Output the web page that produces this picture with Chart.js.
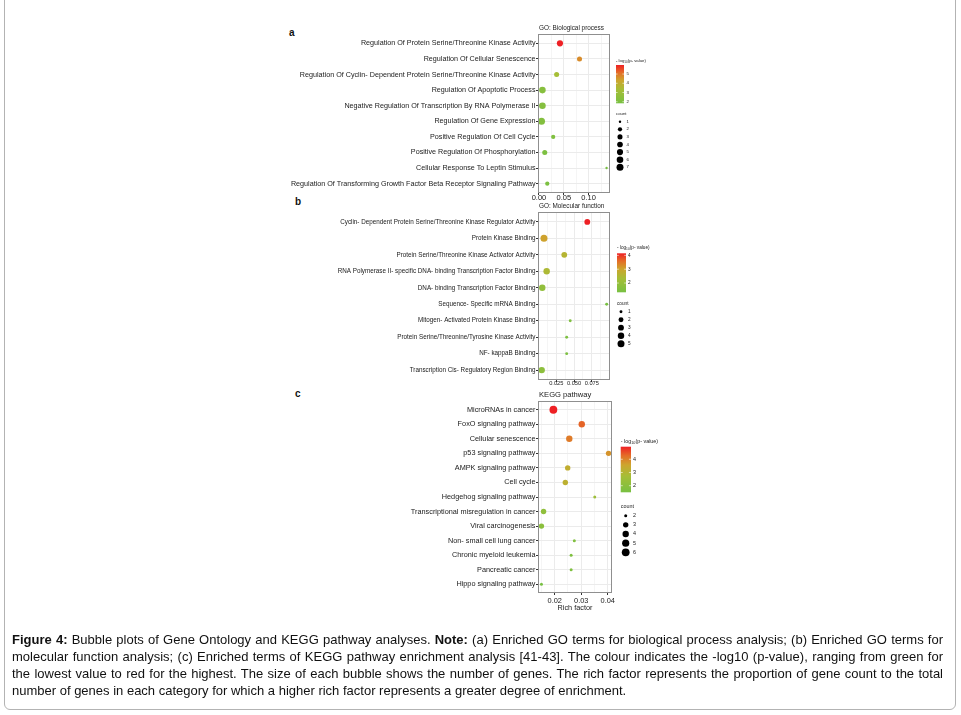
<!DOCTYPE html>
<html>
<head>
<meta charset="utf-8">
<script src="https://cdn.jsdelivr.net/npm/chart.js@4.4.1/dist/chart.umd.min.js"></script>
<style>
    body { margin: 0; background: #fff; width: 961px; height: 715px; position: relative; overflow: hidden; font-family: "Liberation Sans", Arial, sans-serif; }
    canvas { position: absolute; left: 0; }
    .frame { position: absolute; left: 4px; top: -20px; width: 952px; height: 730px; border: 1px solid #b3b3b3; border-radius: 6px; box-sizing: border-box; }
    .letter { position: absolute; font-weight: bold; font-size: 10px; color: #111; }
    .cap { position: absolute; left: 12px; width: 931px; font-size: 13px; line-height: 17px; color: #111; white-space: nowrap; }
    .just { text-align: justify; text-align-last: justify; }
</style>
</head>
<body>
<div class="frame"></div>
<div class="letter" style="left:289px;top:27px">a</div>
<div class="letter" style="left:295px;top:196px">b</div>
<div class="letter" style="left:295px;top:388px">c</div>
<canvas id="bp" width="961" height="215" style="top:0px"></canvas>
<canvas id="mf" width="961" height="200" style="top:195px"></canvas>
<canvas id="kegg" width="961" height="240" style="top:385px"></canvas>
<div class="cap just" style="top:631px"><b>Figure 4:</b> Bubble plots of Gene Ontology and KEGG pathway analyses. <b>Note:</b> (a) Enriched GO terms for biological process analysis; (b) Enriched GO terms for</div>
<div class="cap just" style="top:648px">molecular function analysis; (c) Enriched terms of KEGG pathway enrichment analysis [41-43]. The colour indicates the -log10 (p-value), ranging from green for</div>
<div class="cap just" style="top:665px">the lowest value to red for the highest. The size of each bubble shows the number of genes. The rich factor represents the proportion of gene count to the total</div>
<div class="cap" style="top:682px">number of genes in each category for which a higher rich factor represents a greater degree of enrichment.</div>
<script>
const FONT = '"Liberation Sans", Arial, sans-serif'
Chart.defaults.font.family = FONT

// a - GO biological process
const bpTerms = [
    'Regulation Of Protein Serine/Threonine Kinase Activity',
    'Regulation Of Cellular Senescence',
    'Regulation Of Cyclin- Dependent Protein Serine/Threonine Kinase Activity',
    'Regulation Of Apoptotic Process',
    'Negative Regulation Of Transcription By RNA Polymerase II',
    'Regulation Of Gene Expression',
    'Positive Regulation Of Cell Cycle',
    'Positive Regulation Of Phosphorylation',
    'Cellular Response To Leptin Stimulus',
    'Regulation Of Transforming Growth Factor Beta Receptor Signaling Pathway'
]
const bpRich = [0.0422, 0.0816, 0.0355, 0.0069, 0.0069, 0.0051, 0.0286, 0.0116, 0.1361, 0.0167]
const bpLogP = [5.98, 4.7, 3.3, 2.3, 2.25, 2.2, 2.1, 2.0, 1.83, 1.95]
const bpCount = [5, 3, 3, 6, 6, 7, 2, 3, 1, 2]
const bpXTicks = [0, 0.05, 0.10]
const bpXLabels = ['0.00', '0.05', '0.10']
const bpColourTicks = [2, 3, 4, 5]
const bpCountBreaks = [1, 2, 3, 4, 5, 6, 7]

// b - GO molecular function
const mfTerms = [
    'Cyclin- Dependent Protein Serine/Threonine Kinase Regulator Activity',
    'Protein Kinase Binding',
    'Protein Serine/Threonine Kinase Activator Activity',
    'RNA Polymerase II- specific DNA- binding Transcription Factor Binding',
    'DNA- binding Transcription Factor Binding',
    'Sequence- Specific mRNA Binding',
    'Mitogen- Activated Protein Kinase Binding',
    'Protein Serine/Threonine/Tyrosine Kinase Activity',
    'NF- kappaB Binding',
    'Transcription Cis- Regulatory Region Binding'
]
const mfRich = [0.0686, 0.0076, 0.0362, 0.0114, 0.0052, 0.0959, 0.0446, 0.0396, 0.0396, 0.0044]
const mfLogP = [4.15, 3.05, 2.6, 2.45, 1.9, 1.33, 1.5, 1.45, 1.45, 1.8]
const mfCount = [3, 5, 3, 4, 4, 1, 1, 1, 1, 4]
const mfXTicks = [0.025, 0.05, 0.075]
const mfXLabels = ['0.025', '0.050', '0.075']
const mfColourTicks = [2, 3, 4]
const mfCountBreaks = [1, 2, 3, 4, 5]

// c - KEGG pathway
const keggTerms = [
    'MicroRNAs in cancer',
    'FoxO signaling pathway',
    'Cellular senescence',
    'p53 signaling pathway',
    'AMPK signaling pathway',
    'Cell cycle',
    'Hedgehog signaling pathway',
    'Transcriptional misregulation in cancer',
    'Viral carcinogenesis',
    'Non- small cell lung cancer',
    'Chronic myeloid leukemia',
    'Pancreatic cancer',
    'Hippo signaling pathway'
]
const keggRich = [0.0195, 0.0302, 0.0255, 0.0403, 0.0249, 0.0240, 0.0351, 0.0158, 0.0150, 0.0274, 0.0262, 0.0262, 0.0150]
const keggLogP = [4.95, 4.35, 4.1, 3.8, 3.3, 3.2, 2.5, 2.15, 2.0, 1.75, 1.7, 1.7, 1.5]
const keggCount = [6, 4, 4, 3, 3, 3, 2, 3, 3, 2, 2, 2, 2]
const keggXTicks = [0.02, 0.03, 0.04]
const keggXLabels = ['0.02', '0.03', '0.04']
const keggColourTicks = [2, 3, 4]
const keggCountBreaks = [2, 3, 4, 5, 6]

// green -> yellow-green -> ochre -> orange -> red
const stops = [
    [0, [120, 192, 66]],
    [0.35, [165, 190, 55]],
    [0.6, [205, 165, 45]],
    [0.8, [228, 110, 40]],
    [1, [238, 32, 36]]
]

function rgb(c) { return 'rgb(' + c.map(Math.round).join(',') + ')' }

function colourFor(v, lo, hi) {
    let t = (v - lo) / (hi - lo)
    t = Math.max(0, Math.min(1, t))
    for (let i = 1; i < stops.length; i++) {
        if (t <= stops[i][0]) {
            let a = stops[i - 1], b = stops[i]
            let f = (t - a[0]) / (b[0] - a[0])
            return rgb(a[1].map((x, k) => x + (b[1][k] - x) * f))
        }
    }
    return rgb(stops[stops.length - 1][1])
}

function near(v, list) {
    return list.findIndex(t => Math.abs(t - v) < 1e-7)
}

function makeChart(id, p) {
    let lo = Math.min(...p.logP), hi = Math.max(...p.logP)
    let cMin = Math.min(...p.count), cMax = Math.max(...p.count)
    let radius = c => p.rMin + (p.rMax - p.rMin) * Math.sqrt((c - cMin) / (cMax - cMin))

    let step = p.xTicks[1] - p.xTicks[0]
    let gridVals = []
    for (let v = p.xTicks[0] - step; v <= p.xMax + 1e-9; v += step / 2) {
        if (v >= p.xMin - 1e-9) gridVals.push(+v.toFixed(6))
    }

    let side = {
        id: 'side_' + id,
        afterDraw(chart) {
            let ctx = chart.ctx, a = chart.chartArea, g = p.legend, T = p.top
            ctx.save()
            ctx.strokeStyle = '#8f8f8f'
            ctx.lineWidth = 1
            ctx.strokeRect(a.left + 0.5, a.top + 0.5, a.right - a.left - 1, a.bottom - a.top - 1)

            ctx.fillStyle = '#1a1a1a'
            ctx.textAlign = 'left'
            ctx.textBaseline = 'middle'
            ctx.font = p.titleSize + 'px ' + FONT
            ctx.fillText(p.title, a.left + 1, p.titleY - T)

            // colour bar title: - log10(p- value)
            let fs = g.font
            let x = g.barX, y = g.titleY - T
            ctx.font = fs + 'px ' + FONT
            ctx.fillText('- log', x, y)
            x += ctx.measureText('- log').width
            ctx.font = (fs * 0.7) + 'px ' + FONT
            ctx.fillText('10', x, y + fs * 0.3)
            x += ctx.measureText('10').width
            ctx.font = fs + 'px ' + FONT
            ctx.fillText('(p- value)', x, y)

            let top = g.barTop - T, bot = g.barBottom - T
            let grad = ctx.createLinearGradient(0, bot, 0, top)
            stops.forEach(s => grad.addColorStop(s[0], rgb(s[1])))
            ctx.fillStyle = grad
            ctx.fillRect(g.barX, top, g.barW, bot - top)
            p.colourTicks.forEach(v => {
                let ty = bot - (v - lo) / (hi - lo) * (bot - top)
                ctx.strokeStyle = '#fff'
                ctx.lineWidth = 0.6
                ctx.beginPath()
                ctx.moveTo(g.barX, ty); ctx.lineTo(g.barX + g.barW * 0.2, ty)
                ctx.moveTo(g.barX + g.barW * 0.8, ty); ctx.lineTo(g.barX + g.barW, ty)
                ctx.stroke()
                ctx.fillStyle = '#1a1a1a'
                ctx.fillText(String(v), g.labX, ty)
            })

            ctx.fillText('count', g.barX, g.countY - T)
            p.countBreaks.forEach((c, i) => {
                let dy = g.dotY0 + i * g.dotStep - T
                ctx.fillStyle = '#000'
                ctx.beginPath()
                ctx.arc(g.dotX, dy, radius(c), 0, Math.PI * 2)
                ctx.fill()
                ctx.fillStyle = '#1a1a1a'
                ctx.fillText(String(c), g.labX, dy)
            })
            ctx.restore()
        }
    }

    return new Chart(document.getElementById(id), {
        type: 'bubble',
        data: {
            datasets: [{
                data: p.rich.map((r, i) => ({ x: r, y: i, r: radius(p.count[i]) })),
                backgroundColor: p.logP.map(v => colourFor(v, lo, hi)),
                borderWidth: 0,
                hoverBorderWidth: 0,
                clip: false
            }]
        },
        options: {
            responsive: false,
            devicePixelRatio: 1,
            animation: false,
            events: [],
            layout: { padding: { left: 0, top: p.padTop, right: p.padRight, bottom: 0 } },
            plugins: { legend: { display: false }, tooltip: { enabled: false } },
            scales: {
                x: {
                    type: 'linear',
                    min: p.xMin,
                    max: p.xMax,
                    afterFit: s => { s.height = p.xHeight },
                    afterBuildTicks: s => { s.ticks = gridVals.map(v => ({ value: v })) },
                    border: { display: false },
                    grid: {
                        color: c => near(c.tick.value, p.xTicks) >= 0 ? '#ebebeb' : '#f5f5f5',
                        tickColor: c => near(c.tick.value, p.xTicks) >= 0 ? '#333' : 'rgba(0,0,0,0)',
                        lineWidth: 1,
                        tickLength: 2
                    },
                    ticks: {
                        autoSkip: false,
                        maxRotation: 0,
                        padding: p.xPad,
                        color: '#1a1a1a',
                        font: { size: p.xFont, lineHeight: 1 },
                        callback: v => {
                            let k = near(v, p.xTicks)
                            return k >= 0 ? p.xLabels[k] : ''
                        }
                    },
                    title: p.xTitle ? {
                        display: true,
                        text: p.xTitle,
                        color: '#1a1a1a',
                        font: { size: p.xTitleFont, lineHeight: 1 },
                        padding: { top: 0, bottom: p.xTitlePad }
                    } : { display: false }
                },
                y: {
                    type: 'linear',
                    reverse: true,
                    min: -0.6,
                    max: p.terms.length - 0.4,
                    afterFit: s => { s.width = 538 },
                    afterBuildTicks: s => { s.ticks = p.terms.map((t, i) => ({ value: i })) },
                    border: { display: false },
                    grid: { color: '#ebebeb', tickColor: '#333', lineWidth: 1, tickLength: 2 },
                    ticks: {
                        autoSkip: false,
                        padding: 0.5,
                        color: '#1a1a1a',
                        font: { size: p.yFont, lineHeight: 1 },
                        callback: v => p.terms[v]
                    }
                }
            }
        },
        plugins: [side]
    })
}

makeChart('bp', {
    top: 0, terms: bpTerms, rich: bpRich, logP: bpLogP, count: bpCount,
    xTicks: bpXTicks, xLabels: bpXLabels, colourTicks: bpColourTicks, countBreaks: bpCountBreaks,
    xMin: -0.002, xMax: 0.143, padTop: 34, padRight: 351, xHeight: 22,
    xFont: 7.5, xPad: -0.75, yFont: 7.2, rMin: 1.2, rMax: 3.5,
    title: 'GO: Biological process', titleSize: 6.4, titleY: 28.3,
    legend: { font: 4.3, titleY: 61, barX: 616, barW: 8, barTop: 65, barBottom: 103.3, labX: 626.5,
        countY: 114.3, dotX: 620, dotY0: 121.7, dotStep: 7.6 }
})

makeChart('mf', {
    top: 195, terms: mfTerms, rich: mfRich, logP: mfLogP, count: mfCount,
    xTicks: mfXTicks, xLabels: mfXLabels, colourTicks: mfColourTicks, countBreaks: mfCountBreaks,
    xMin: -0.0008, xMax: 0.1006, padTop: 17, padRight: 351, xHeight: 15,
    xFont: 5.7, xPad: -1.55, yFont: 6.3, rMin: 1.45, rMax: 3.5,
    title: 'GO: Molecular function', titleSize: 6.4, titleY: 206.7,
    legend: { font: 4.7, titleY: 247.3, barX: 617, barW: 9, barTop: 253.3, barBottom: 292.3, labX: 628,
        countY: 303.3, dotX: 621, dotY0: 311.7, dotStep: 8 }
})

makeChart('kegg', {
    top: 385, terms: keggTerms, rich: keggRich, logP: keggLogP, count: keggCount,
    xTicks: keggXTicks, xLabels: keggXLabels, colourTicks: keggColourTicks, countBreaks: keggCountBreaks,
    xMin: 0.0137, xMax: 0.0416, padTop: 16, padRight: 349, xHeight: 32,
    xFont: 7.4, xPad: 2.3, yFont: 7.3, rMin: 1.5, rMax: 3.9,
    xTitle: 'Rich factor', xTitleFont: 7.3, xTitlePad: 13.85,
    title: 'KEGG pathway', titleSize: 7.6, titleY: 394.5,
    legend: { font: 5.4, titleY: 441.7, barX: 620.7, barW: 10.3, barTop: 446.7, barBottom: 492.3, labX: 633,
        countY: 506.7, dotX: 625.7, dotY0: 515.7, dotStep: 9.15 }
})
</script>
</body>
</html>
